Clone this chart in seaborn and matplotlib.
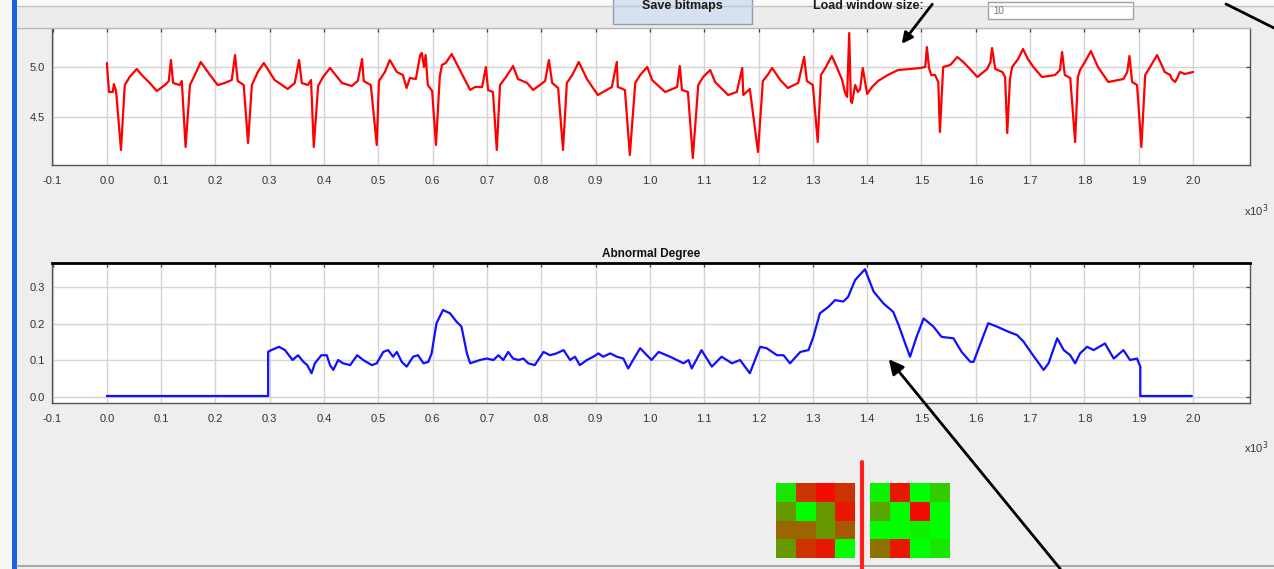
import numpy as np
import pandas as pd
import matplotlib
matplotlib.use("Agg")
import matplotlib.pyplot as plt
from matplotlib.ticker import FuncFormatter, FixedLocator
from matplotlib.colors import LinearSegmentedColormap
from matplotlib.patches import Rectangle
import seaborn as sns

# ---------------- data ----------------
# ECG signal (sample index, amplitude)
ecg_t = [0, 4, 11, 13, 17, 26, 33, 42, 55, 66, 79, 92, 107, 114, 118, 122, 134, 138, 145, 153,
         162, 173, 190, 204, 217, 230, 236, 241, 252, 260, 267, 278, 289, 309, 333, 346, 354, 359,
         370, 376, 381, 389, 398, 411, 433, 451, 462, 470, 473, 486, 497, 501, 512, 521, 534, 545,
         552, 558, 569, 577, 580, 584, 587, 591, 599, 606, 613, 617, 624, 635, 654, 669, 678, 691,
         698, 702, 711, 718, 724, 735, 748, 757, 774, 785, 807, 814, 820, 831, 840, 847, 857, 869,
         884, 904, 930, 939, 941, 954, 963, 973, 982, 995, 1004, 1028, 1050, 1055, 1059, 1070, 1079,
         1089, 1098, 1111, 1120, 1144, 1160, 1170, 1172, 1184, 1199, 1208, 1218, 1225, 1240, 1254,
         1273, 1284, 1289, 1300, 1309, 1315, 1324, 1335, 1344, 1354, 1359, 1363, 1367, 1370, 1372,
         1378, 1383, 1387, 1392, 1400, 1409, 1420, 1438, 1457, 1479, 1498, 1507, 1510, 1514, 1518,
         1525, 1531, 1534, 1540, 1553, 1566, 1577, 1586, 1603, 1621, 1627, 1630, 1636, 1649, 1654,
         1658, 1663, 1667, 1678, 1687, 1696, 1706, 1722, 1746, 1755, 1759, 1764, 1774, 1783, 1788,
         1792, 1801, 1812, 1825, 1844, 1872, 1879, 1883, 1888, 1897, 1905, 1912, 1921, 1934, 1948,
         1958, 1961, 1967, 1972, 1976, 1985, 2000]
ecg_v = [5.04, 4.75, 4.75, 4.83, 4.76, 4.17, 4.82, 4.90, 4.98, 4.91, 4.84, 4.76, 4.82, 4.86, 5.07,
         4.84, 4.82, 4.86, 4.20, 4.82, 4.92, 5.05, 4.92, 4.82, 4.84, 4.87, 5.12, 4.86, 4.82, 4.24,
         4.82, 4.95, 5.04, 4.87, 4.78, 4.84, 5.07, 4.84, 4.82, 4.87, 4.20, 4.81, 4.90, 4.99, 4.84,
         4.81, 4.86, 5.08, 4.86, 4.82, 4.22, 4.86, 4.95, 5.07, 4.95, 4.92, 4.79, 4.89, 4.88, 5.12,
         5.14, 5.00, 5.12, 4.82, 4.76, 4.22, 4.90, 5.02, 5.04, 5.13, 4.93, 4.77, 4.80, 4.80, 5.00,
         4.77, 4.75, 4.17, 4.82, 4.90, 5.01, 4.88, 4.84, 4.77, 4.86, 5.07, 4.84, 4.79, 4.17, 4.84,
         4.92, 5.05, 4.88, 4.72, 4.80, 5.05, 4.80, 4.77, 4.12, 4.84, 4.92, 5.00, 4.87, 4.75, 4.80,
         5.01, 4.77, 4.75, 4.09, 4.82, 4.90, 4.97, 4.85, 4.72, 4.75, 4.99, 4.72, 4.78, 4.15, 4.86,
         4.93, 4.99, 4.87, 4.79, 4.84, 5.10, 4.86, 4.82, 4.25, 4.92, 5.00, 5.11, 5.00, 4.87, 4.75,
         4.70, 5.34, 4.66, 4.64, 4.82, 4.75, 4.78, 4.99, 4.73, 4.80, 4.86, 4.92, 4.97, 4.98, 4.99,
         5.00, 5.20, 4.99, 4.92, 4.92, 4.85, 4.35, 5.00, 5.02, 5.10, 5.05, 5.00, 4.90, 4.98, 5.05,
         5.19, 4.98, 4.95, 4.90, 4.34, 4.88, 5.00, 5.08, 5.18, 5.08, 5.00, 4.90, 4.92, 4.97, 5.15,
         4.92, 4.89, 4.25, 4.90, 4.97, 5.05, 5.16, 5.00, 4.85, 4.88, 4.95, 5.11, 4.85, 4.82, 4.20,
         4.92, 5.00, 5.12, 4.95, 4.92, 4.88, 4.85, 4.90, 4.95, 4.93, 4.95]

# Abnormal degree (sample index, value)
abn_t = [0, 297, 297, 300, 317, 328, 342, 352, 362, 369, 377, 383, 395, 405, 411, 417, 426, 435,
         448, 461, 472, 488, 497, 509, 518, 527, 534, 543, 552, 564, 573, 583, 592, 598, 607, 619,
         632, 644, 653, 663, 669, 687, 699, 712, 721, 730, 739, 748, 758, 767, 776, 788, 804, 816,
         828, 841, 853, 862, 871, 884, 896, 905, 914, 927, 939, 951, 960, 969, 982, 1003, 1016, 1037,
         1062, 1071, 1077, 1095, 1114, 1132, 1151, 1166, 1184, 1203, 1215, 1234, 1246, 1258, 1277,
         1292, 1301, 1313, 1329, 1341, 1356, 1365, 1378, 1396, 1412, 1430, 1448, 1458, 1470, 1479,
         1491, 1504, 1522, 1537, 1559, 1574, 1590, 1596, 1611, 1623, 1639, 1660, 1676, 1688, 1703,
         1725, 1734, 1750, 1762, 1774, 1783, 1792, 1805, 1817, 1838, 1854, 1872, 1884, 1897, 1903,
         1903, 1998]
abn_v = [0.003, 0.003, 0.123, 0.126, 0.137, 0.128, 0.101, 0.114, 0.096, 0.087, 0.065, 0.092, 0.114,
         0.114, 0.087, 0.074, 0.101, 0.092, 0.087, 0.114, 0.101, 0.087, 0.092, 0.123, 0.128, 0.110,
         0.123, 0.096, 0.083, 0.110, 0.114, 0.092, 0.096, 0.119, 0.201, 0.237, 0.228, 0.205, 0.192,
         0.119, 0.092, 0.101, 0.105, 0.101, 0.114, 0.101, 0.123, 0.105, 0.101, 0.105, 0.092, 0.087,
         0.123, 0.114, 0.119, 0.128, 0.101, 0.110, 0.087, 0.101, 0.110, 0.119, 0.110, 0.119, 0.110,
         0.105, 0.078, 0.101, 0.133, 0.101, 0.123, 0.110, 0.092, 0.101, 0.078, 0.128, 0.083, 0.110,
         0.092, 0.101, 0.065, 0.137, 0.133, 0.114, 0.114, 0.092, 0.123, 0.128, 0.164, 0.228, 0.246,
         0.264, 0.260, 0.273, 0.319, 0.348, 0.287, 0.255, 0.232, 0.196, 0.146, 0.110, 0.164, 0.214,
         0.192, 0.164, 0.160, 0.123, 0.096, 0.096, 0.155, 0.201, 0.192, 0.178, 0.169, 0.151, 0.119,
         0.074, 0.092, 0.160, 0.128, 0.114, 0.092, 0.119, 0.137, 0.128, 0.146, 0.105, 0.128, 0.101,
         0.105, 0.083, 0.003, 0.003]

x_ticks = [-100, 0, 100, 200, 300, 400, 500, 600, 700, 800, 900, 1000, 1100, 1200, 1300, 1400,
           1500, 1600, 1700, 1800, 1900, 2000]
ecg_yticks = [4.5, 5.0]
abn_yticks = [0.0, 0.1, 0.2, 0.3]
title_bottom = "Abnormal Degree"

bitmap_left = [[0.10, 0.80, 0.95, 0.80],
               [0.40, 0.00, 0.40, 0.90],
               [0.60, 0.60, 0.40, 0.65],
               [0.40, 0.80, 0.90, 0.00]]
bitmap_right = [[0.05, 0.90, 0.00, 0.20],
                [0.35, 0.00, 0.95, 0.00],
                [0.00, 0.00, 0.05, 0.00],
                [0.55, 0.90, 0.00, 0.10]]

# ---------------- figure ----------------
sns.set_style("white")
plt.rcParams['font.family'] = ['Liberation Sans', 'DejaVu Sans']

W, H = 1274, 569
fig = plt.figure(figsize=(W / 100, H / 100), dpi=100)
fig.patch.set_facecolor('#eeeeee')


def px_axes(x0, y0, x1, y1):
    return fig.add_axes([x0 / W, 1 - y1 / H, (x1 - x0) / W, (y1 - y0) / H])


fmt = FuncFormatter(lambda v, p: f"{v / 1000:.1f}")


def style_axes(ax, yticks, ylim, top_color):
    ax.set_facecolor('white')
    ax.set_xlim(-101, 2105)
    ax.set_ylim(*ylim)
    ax.xaxis.set_major_locator(FixedLocator(x_ticks))
    ax.xaxis.set_major_formatter(fmt)
    ax.set_yticks(yticks)
    ax.yaxis.set_major_formatter(FuncFormatter(lambda v, p: f"{v:.1f}"))
    ax.grid(True, color='#d4d4d4', lw=1.0)
    ax.tick_params(direction='in', length=3, width=0.9, color='#444444',
                   labelsize=8, labelcolor='#333333',
                   top=True, right=True, labeltop=False, labelright=False)
    ax.tick_params(axis='x', pad=8)
    ax.tick_params(axis='y', pad=5)
    for s in ['left', 'right', 'bottom']:
        ax.spines[s].set_color('#555555')
        ax.spines[s].set_linewidth(1.0)
    ax.spines['top'].set_color(top_color)
    ax.set_xlabel('')
    ax.set_ylabel('')


# top ECG plot
ax1 = px_axes(52, 28, 1250, 165)
sns.lineplot(x=ecg_t, y=ecg_v, ax=ax1, color='#ff0000', lw=1.6,
             estimator=None, sort=False, solid_joinstyle='round')
style_axes(ax1, ecg_yticks, (4.02, 5.39), '#aaaaaa')

# bottom abnormal degree plot
ax2 = px_axes(52, 263, 1250, 403)
sns.lineplot(x=abn_t, y=abn_v, ax=ax2, color='#1010ff', lw=1.6,
             estimator=None, sort=False, solid_joinstyle='round')
style_axes(ax2, abn_yticks, (-0.016, 0.365), '#000000')
ax2.spines['top'].set_linewidth(2.0)
ax2.set_title(title_bottom, fontsize=8.5, fontweight='bold', pad=4, color='#111111')

# bitmaps
cmap = LinearSegmentedColormap.from_list('gr', ['#00ff00', '#ff0000'])
hl = px_axes(776, 483, 855, 558)
sns.heatmap(np.array(bitmap_left), ax=hl, cmap=cmap, vmin=0, vmax=1, cbar=False,
            xticklabels=False, yticklabels=False)
hr = px_axes(870, 483, 950, 558)
sns.heatmap(np.array(bitmap_right), ax=hr, cmap=cmap, vmin=0, vmax=1, cbar=False,
            xticklabels=False, yticklabels=False)

# decoration overlay (GUI elements)
deco = fig.add_axes([0, 0, 1, 1])
deco.set_zorder(10)
deco.patch.set_visible(False)
deco.set_xlim(0, W)
deco.set_ylim(H, 0)
deco.axis('off')

deco.add_patch(Rectangle((0, 0), W, 6, facecolor='#fafafa', edgecolor='none'))
deco.add_patch(Rectangle((17, 6), 1233, 22, facecolor='#ececec', edgecolor='none'))
deco.plot([17, 1274], [6, 6], color='#c4c4c4', lw=1)
deco.plot([17, 1250], [28, 28], color='#b8b8b8', lw=1)
# Save bitmaps button
deco.add_patch(Rectangle((613, -2), 139, 26, facecolor='#d6e2ef', edgecolor='#8c9cb0', lw=1))
deco.text(682, 6, 'Save bitmaps', ha='center', va='center', fontsize=9,
          fontweight='bold', color='#1a1a1a')
deco.text(868, 6, 'Load window size:', ha='center', va='center', fontsize=9,
          fontweight='bold', color='#1a1a1a')
deco.add_patch(Rectangle((988, 2), 145, 17, facecolor='white', edgecolor='#a0a0a0', lw=1))
deco.text(993, 11, '10', ha='left', va='center', fontsize=7, color='#777777')

# left blue strip
deco.add_patch(Rectangle((0, 0), 12, H, facecolor='#f6f6f6', edgecolor='none'))
deco.add_patch(Rectangle((12, 0), 5, H, facecolor='#1e5fe0', edgecolor='none'))
# bottom border
deco.plot([17, W], [566, 566], color='#9a9a9a', lw=1.2)

# x10^3 labels
deco.text(1244, 211, r'x10$^{3}$', fontsize=8, color='#333333', va='center', ha='left')
deco.text(1244, 448, r'x10$^{3}$', fontsize=8, color='#333333', va='center', ha='left')

# red separator line between bitmaps
deco.plot([862, 862], [462, H], color='#ff2020', lw=3)

# arrows
deco.annotate('', xy=(900, 46), xytext=(934, 2),
              arrowprops=dict(arrowstyle='-|>', color='black', lw=2, mutation_scale=16))
deco.plot([1226, W], [4, 28], color='black', lw=2)
deco.annotate('', xy=(887, 357), xytext=(1062, H + 2),
              arrowprops=dict(arrowstyle='-|>', color='black', lw=2, mutation_scale=22),
              annotation_clip=False)

fig.savefig('out.png', dpi=100, facecolor=fig.get_facecolor())
